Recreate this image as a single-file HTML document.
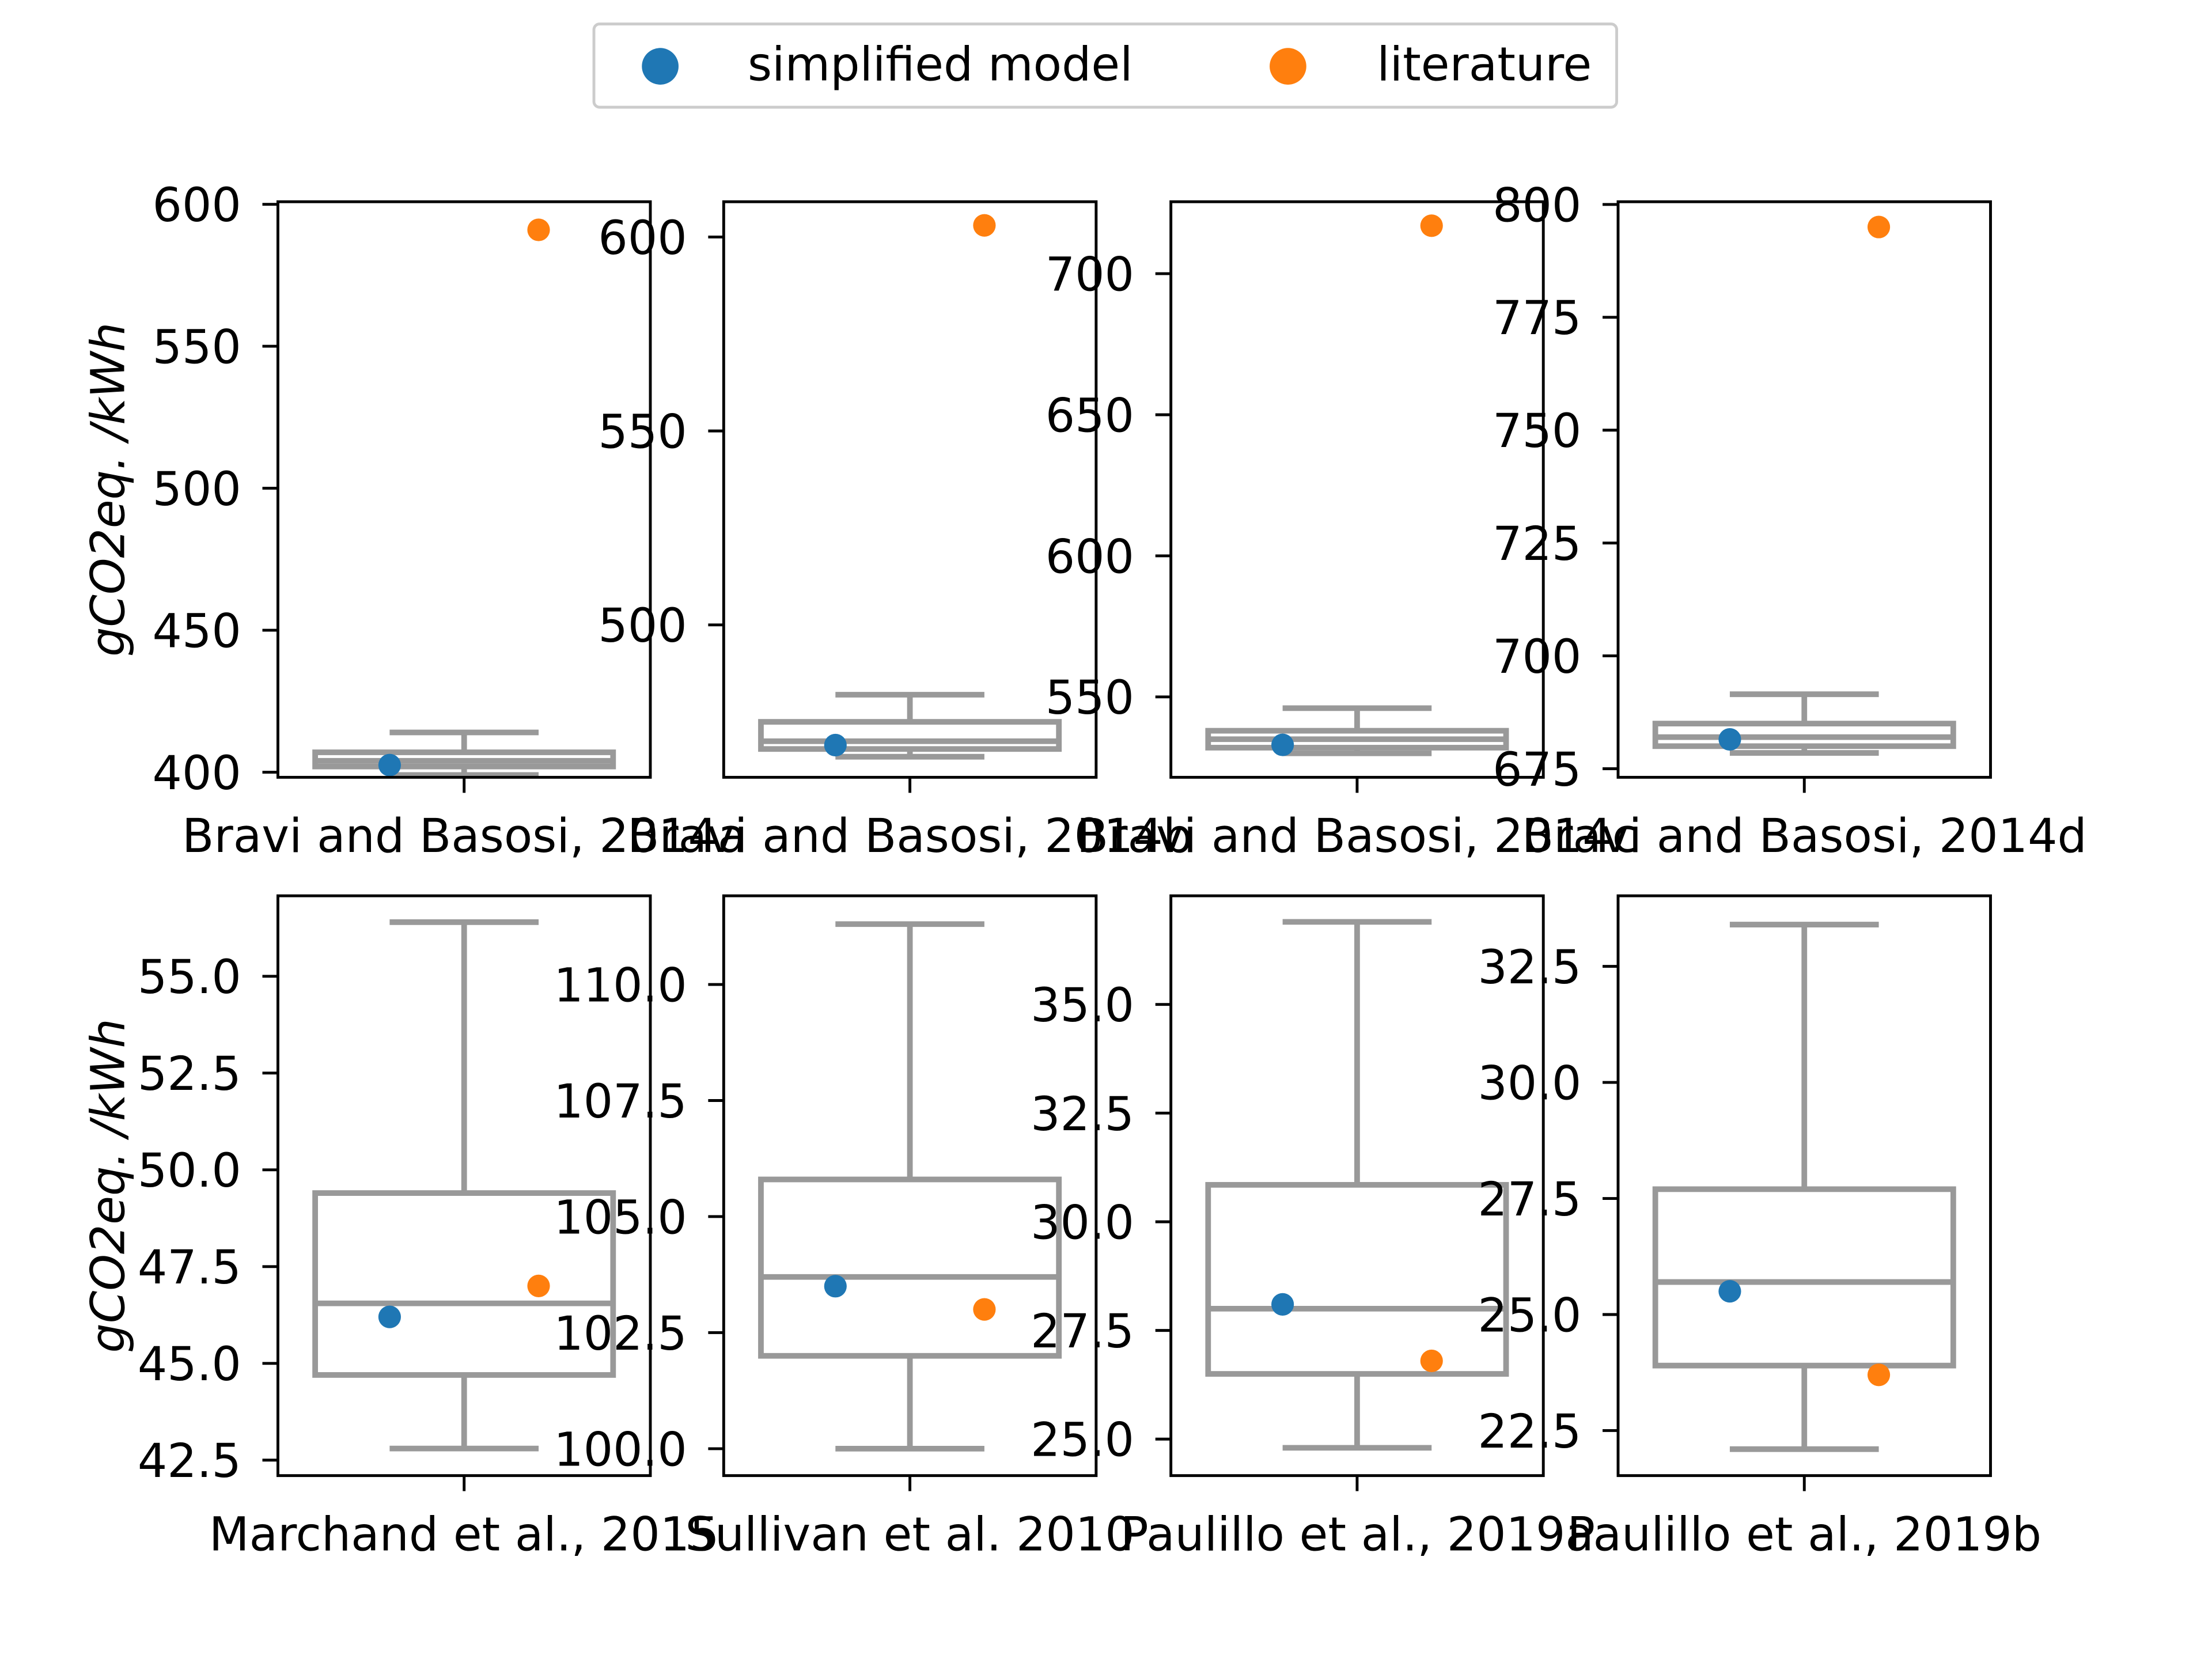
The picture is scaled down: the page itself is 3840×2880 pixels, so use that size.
<!DOCTYPE html>
<html><head><meta charset="utf-8"><style>
html,body{margin:0;padding:0;background:#fff}
svg{display:block}
text{font-family:"DejaVu Sans","Liberation Sans",sans-serif;fill:#000}
</style></head><body>
<svg id="chart" xmlns="http://www.w3.org/2000/svg" width="3840" height="2880" viewBox="0 0 1568 1176">
<rect width="1568" height="1176" fill="#fff"/>
<g>
<rect x="421" y="17" width="725" height="59" rx="4" fill="#fff" stroke="#ccc" stroke-width="2"/>
<circle cx="468" cy="47" r="13" fill="#1f77b4"/>
<text x="530" y="57" font-size="33">simplified model</text>
<circle cx="913" cy="47" r="13" fill="#ff7f0e"/>
<text x="976" y="57" font-size="33">literature</text>
</g>
<g id="panels"></g>
</svg>
<script>
const titles=["Bravi and Basosi, 2014a","Bravi and Basosi, 2014b","Bravi and Basosi, 2014c","Bravi and Basosi, 2014d","Marchand et al., 2015","Sullivan et al. 2010","Paulillo et al., 2019a","Paulillo et al., 2019b"];
const yMin=[398.2,460.7,521.5,673.1,42.1,99.42,24.16,21.53];
const yMax=[600.9,609.1,725.5,800.6,57.08,111.91,37.5,34.02];
const ticks=[[400,450,500,550,600],[500,550,600],[550,600,650,700],[675,700,725,750,775,800],[42.5,45,47.5,50,52.5,55],[100,102.5,105,107.5,110],[25,27.5,30,32.5,35],[22.5,25,27.5,30,32.5]];
const tickDecimals=[0,0,0,0,1,1,1,1];
const whiskLow=[399,466,530,678.5,42.8,100,24.8,22.1];
const q1=[402,468,532,680,44.7,102.0,26.5,23.9];
const median=[404,470,535,682,46.55,103.7,28.0,25.7];
const q3=[407,475,538,685,49.4,105.8,30.85,27.7];
const whiskHigh=[414,482,546,691.5,56.4,111.3,36.9,33.4];
const modelVals=[402.5,469,533,681.5,46.2,103.5,28.1,25.5];
const litVals=[591,603,717,795,47.0,103.0,26.8,23.7];

const NS="http://www.w3.org/2000/svg";
const root=document.getElementById('panels');
const colX=[197,513,830,1147], W=264;
const rowY=[143,635], H=[408,411];
function mk(tag,attrs,parent){const e=document.createElementNS(NS,tag);for(const k in attrs)e.setAttribute(k,attrs[k]);parent.appendChild(e);return e;}
for(let i=0;i<8;i++){
  const c=i%4,r=Math.floor(i/4);
  const x0=colX[c],y0=rowY[r],h=H[r];
  const g=mk('g',{},root);
  
  
  const ys=v=>y0+h-(v-yMin[i])/(yMax[i]-yMin[i])*h;
  const xs=t=>x0+W*(0.5+t*0.4);
  const cx=x0+W/2, bw=W*0.8;
  const gray='#999';
  const sw=4;
  const wl=mk('line',{x1:cx,x2:cx,y1:ys(whiskHigh[i]),y2:ys(q3[i]),stroke:gray,'stroke-width':sw},g);
  
  
  const wl2=mk('line',{x1:cx,x2:cx,y1:ys(q1[i]),y2:ys(whiskLow[i]),stroke:gray,'stroke-width':sw},g);
  
  
  const capH=mk('line',{x1:cx-bw/4,x2:cx+bw/4,y1:ys(whiskHigh[i]),y2:ys(whiskHigh[i]),stroke:gray,'stroke-width':sw},g);
  
  
  const capL=mk('line',{x1:cx-bw/4,x2:cx+bw/4,y1:ys(whiskLow[i]),y2:ys(whiskLow[i]),stroke:gray,'stroke-width':sw},g);
  
  
  const box=mk('rect',{x:cx-bw/2,y:ys(q3[i]),width:bw,height:ys(q1[i])-ys(q3[i]),fill:'none',stroke:gray,'stroke-width':sw},g);
  
  
  const med=mk('line',{x1:cx-bw/2,x2:cx+bw/2,y1:ys(median[i]),y2:ys(median[i]),stroke:gray,'stroke-width':sw},g);
  
  
  const p1=mk('circle',{cx:xs(-0.5),cy:ys(modelVals[i]),r:8,fill:'#1f77b4'},g);
  
  
  const p2=mk('circle',{cx:xs(0.5),cy:ys(litVals[i]),r:8,fill:'#ff7f0e'},g);
  
  
  const fr=mk('rect',{x:x0,y:y0,width:W,height:h,fill:'none',stroke:'#000','stroke-width':2},g);
  
  
  for(const t of ticks[i]){
    const y=ys(t);
    const tl=mk('line',{x1:x0-11,x2:x0,y1:y,y2:y,stroke:'#000','stroke-width':2},g);
    
    
    const tx=mk('text',{x:x0-26,y:y+12,'font-size':33,'text-anchor':'end'},g);
    
    
    tx.textContent=t.toFixed(tickDecimals[i]);
  }
  const xt=mk('line',{x1:cx,x2:cx,y1:y0+h,y2:y0+h+11,stroke:'#000','stroke-width':2},g);
  
  
  const xl=mk('text',{x:cx,y:y0+h+53,'font-size':33,'text-anchor':'middle'},g);
  
  
  xl.textContent=titles[i];
  if(c===0){
    const yc=y0+h/2;
    const yt=mk('text',{x:0,y:0,'font-size':33,'font-style':'italic','text-anchor':'middle',transform:`translate(88,${yc}) rotate(-90)`},g);
    
    
    yt.textContent='gCO2eq. /kWh';
  }
}
</script>
</body></html>
